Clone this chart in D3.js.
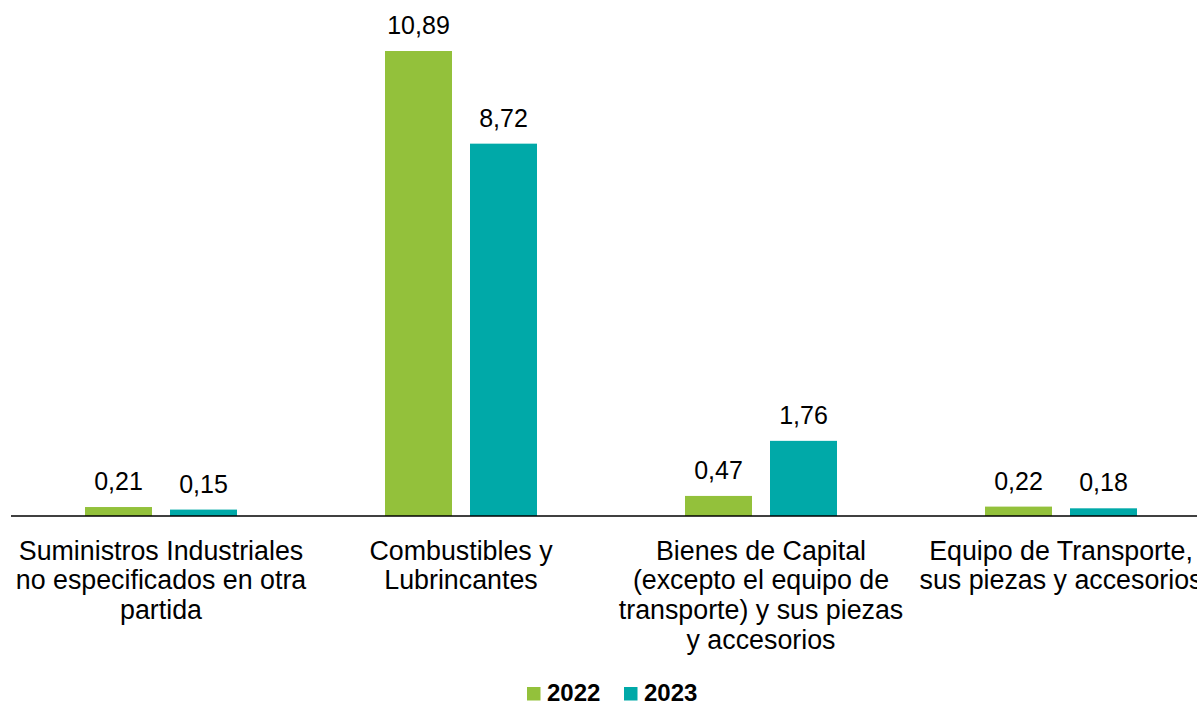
<!DOCTYPE html>
<html>
<head>
<meta charset="utf-8">
<script src="https://cdn.jsdelivr.net/npm/d3@7"></script>
<style>
  html, body { margin: 0; padding: 0; background: #fff; }
  svg { display: block; font-family: "Liberation Sans", Arial, sans-serif; }
</style>
</head>
<body>
<svg id="chart" width="1197" height="703"></svg>
<script>
// Category labels, split into the lines they are drawn on
const categories = [
  ["Suministros Industriales", "no especificados en otra", "partida"],
  ["Combustibles y", "Lubrincantes"],
  ["Bienes de Capital", "(excepto el equipo de", "transporte) y sus piezas", "y accesorios"],
  ["Equipo de Transporte,", "sus piezas y accesorios"]
];
const seriesNames = ["2022", "2023"];
const values2022 = [0.21, 10.89, 0.47, 0.22];
const values2023 = [0.15, 8.72, 1.76, 0.18];
const colors = ["#93C13B", "#00A9A8"];

const svg = d3.select("#chart");
const baseY = 516;

const x0 = d3.scaleBand()
  .domain(d3.range(categories.length))
  .range([11, 1211])
  .paddingInner(0)
  .paddingOuter(0);

const x1 = d3.scaleBand()
  .domain(seriesNames)
  .range([74, 226])
  .paddingInner(18 / 85)
  .paddingOuter(0);

const y = d3.scaleLinear()
  .domain([0, 10.89])
  .range([baseY, 51]);

const data = categories.map((c, i) => ({
  i,
  vals: [
    { key: "2022", v: values2022[i] },
    { key: "2023", v: values2023[i] }
  ]
}));

const fmt = v => d3.format(".2f")(v).replace(".", ",");

const groups = svg.selectAll("g.cat")
  .data(data)
  .join("g")
  .attr("class", "cat")
  .attr("transform", d => `translate(${x0(d.i)},0)`);

groups.selectAll("rect")
  .data(d => d.vals)
  .join("rect")
  .attr("x", d => x1(d.key))
  .attr("width", x1.bandwidth())
  .attr("y", d => y(d.v))
  .attr("height", d => baseY - y(d.v))
  .attr("fill", (d, j) => colors[j]);

groups.selectAll("text.val")
  .data(d => d.vals)
  .join("text")
  .attr("class", "val")
  .attr("x", d => x1(d.key) + x1.bandwidth() / 2)
  .attr("y", d => y(d.v) - 17)
  .attr("text-anchor", "middle")
  .attr("font-size", 25)
  .attr("fill", "#000")
  .text(d => fmt(d.v));

// Baseline axis
svg.append("line")
  .attr("x1", x0.range()[0])
  .attr("x2", x0.range()[1])
  .attr("y1", baseY)
  .attr("y2", baseY)
  .attr("stroke", "#000")
  .attr("stroke-width", 1.5);

// Category labels
const labels = svg.selectAll("text.cat")
  .data(categories)
  .join("text")
  .attr("class", "cat")
  .attr("text-anchor", "middle")
  .attr("font-size", 26.8)
  .attr("fill", "#000");

labels.selectAll("tspan")
  .data((d, i) => d.map(line => ({ line, i })))
  .join("tspan")
  .attr("x", d => x0(d.i) + x0.bandwidth() / 2)
  .attr("y", (d, k) => 559.5 + k * 29.7)
  .text(d => d.line);

// Legend
const legendItems = [
  { name: seriesNames[0], color: colors[0], x: 527 },
  { name: seriesNames[1], color: colors[1], x: 624 }
];
const lg = svg.selectAll("g.legend")
  .data(legendItems)
  .join("g")
  .attr("class", "legend")
  .attr("transform", d => `translate(${d.x},0)`);
lg.append("rect")
  .attr("x", 0)
  .attr("y", 687)
  .attr("width", 13.5)
  .attr("height", 13.5)
  .attr("fill", d => d.color);
lg.append("text")
  .attr("x", 20)
  .attr("y", 701)
  .attr("font-size", 24)
  .attr("font-weight", "bold")
  .attr("fill", "#000")
  .text(d => d.name);
</script>
</body>
</html>
